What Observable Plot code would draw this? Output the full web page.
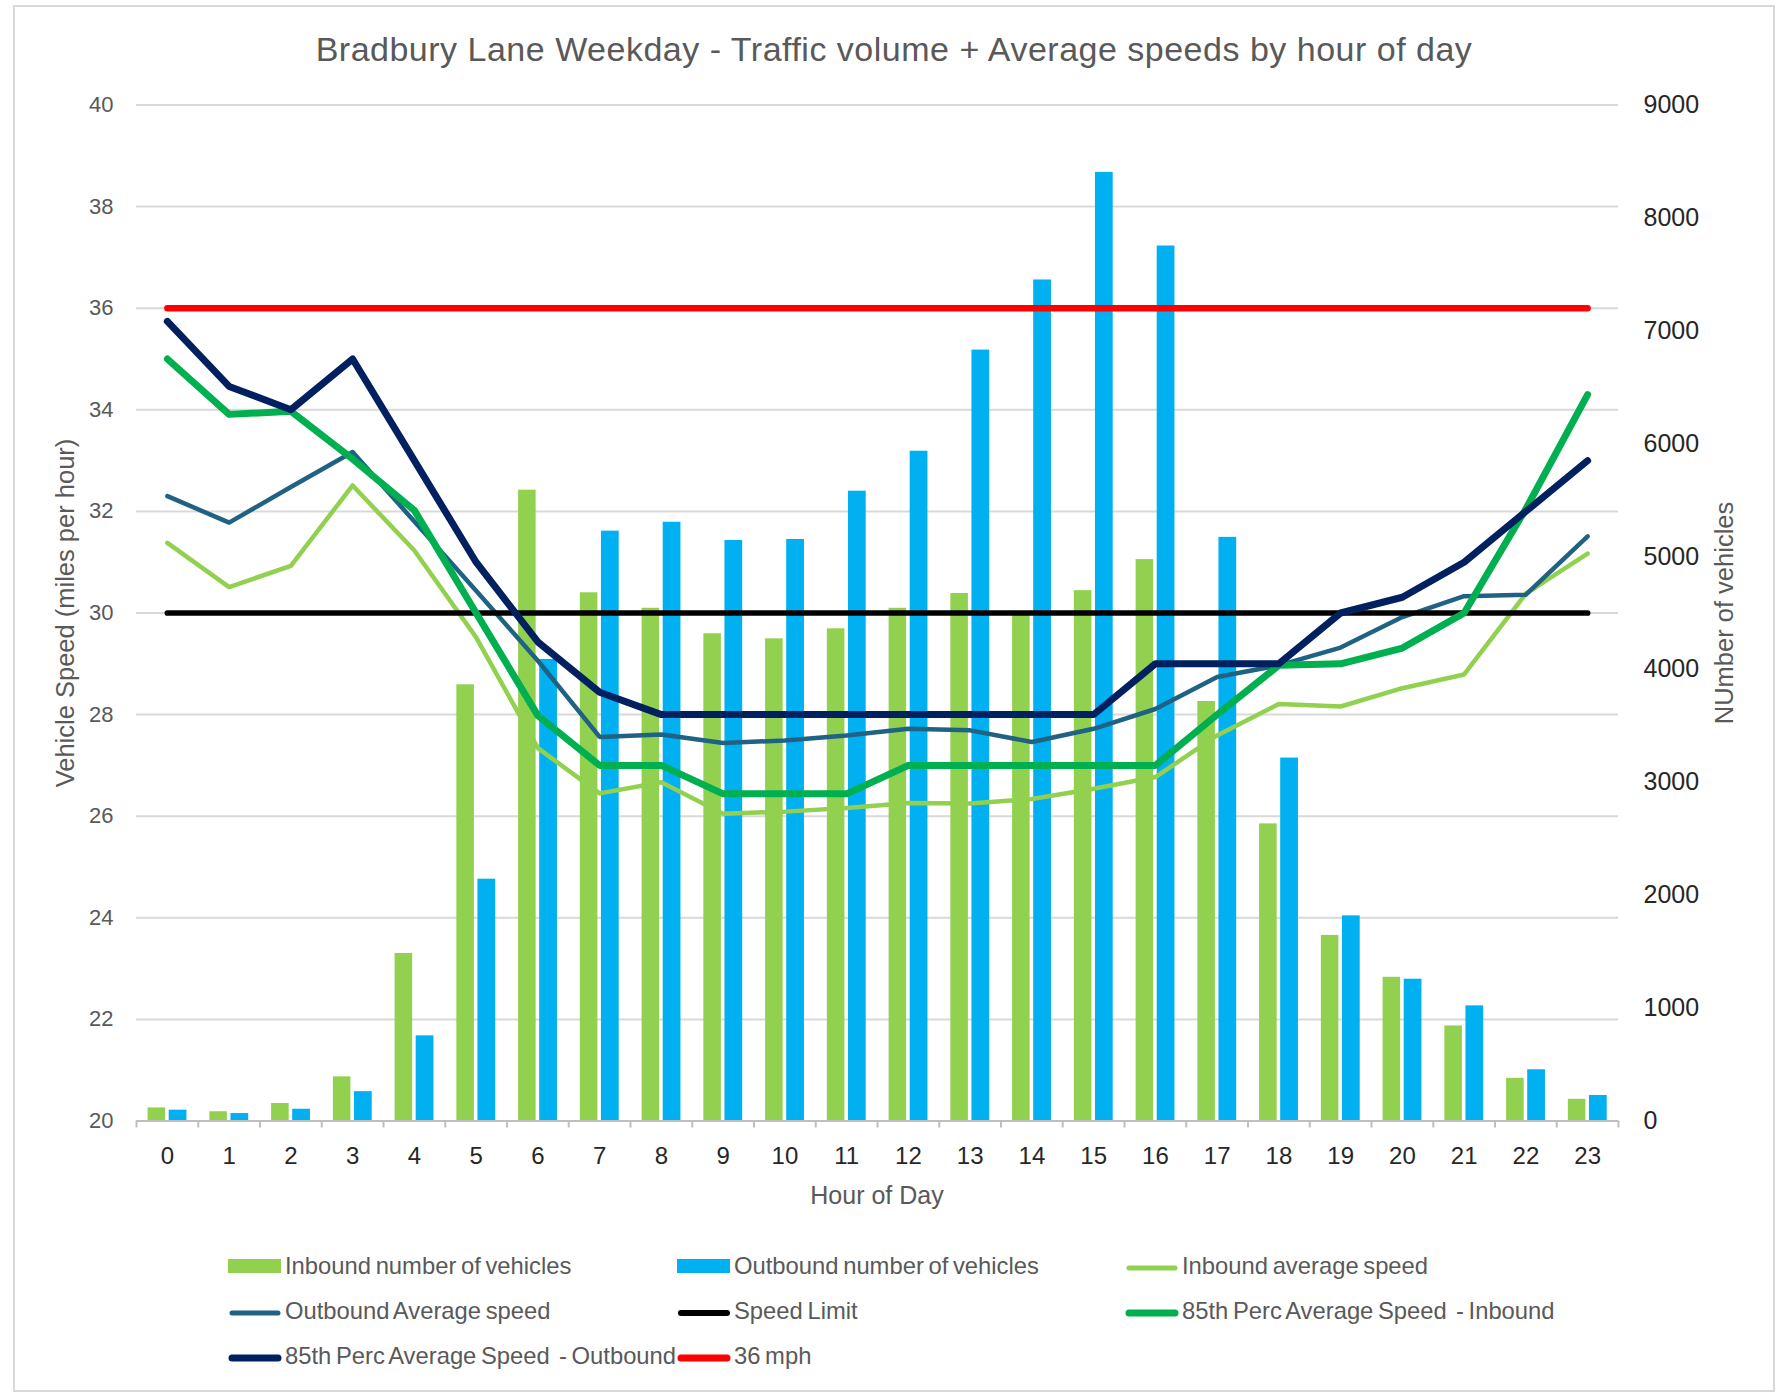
<!DOCTYPE html>
<html>
<head>
<meta charset="utf-8">
<script src="https://cdn.jsdelivr.net/npm/d3@7"></script>
<script src="https://cdn.jsdelivr.net/npm/@observablehq/plot@0.6"></script>
<style>
  body { margin: 0; background: #fff; font-family: "Liberation Sans", Arial, sans-serif; }
  #wrap { position: relative; width: 1780px; height: 1397px; overflow: hidden; background: #fff; }
  #frame { position: absolute; left: 13px; top: 5px; width: 1762px; height: 1387px; border: 2px solid #D9D9D9; box-sizing: border-box; }
  #title { position: absolute; left: 14px; width: 1760px; top: 30px; text-align: center; font-size: 34px; letter-spacing: 0.5px; line-height: 38px; color: #595959; white-space: nowrap; }
  #chart { position: absolute; left: 0; top: 0; }
  .axt { position: absolute; font-size: 25.5px; line-height: 28px; color: #595959; white-space: nowrap; transform: translate(-50%, -50%) rotate(-90deg); }
  #xt { position: absolute; font-size: 25px; line-height: 28px; color: #595959; white-space: nowrap; transform: translate(-50%, -50%); }
  .leg { position: absolute; font-size: 23.8px; word-spacing: -2px; line-height: 28px; color: #595959; white-space: pre; }
  .sw { position: absolute; }
</style>
</head>
<body>
<div id="wrap">
  <div id="frame"></div>
  <div id="title">Bradbury Lane Weekday - Traffic volume + Average speeds by hour of day</div>
  <div id="chart"></div>
  <div class="axt" style="left:65px; top:613px;">Vehicle Speed (miles per hour)</div>
  <div class="axt" style="left:1724px; top:613px;">NUmber of vehicles</div>
  <div id="xt" style="left:877px; top:1195px;">Hour of Day</div>
  <div id="legend"></div>
</div>
<script>
// ---- Data ----
const hours = [0, 1, 2, 3, 4, 5, 6, 7, 8, 9, 10, 11, 12, 13, 14, 15, 16, 17, 18, 19, 20, 21, 22, 23];

const inboundVehicles  = [116, 82, 155, 391, 1484, 3864, 5588, 4679, 4542, 4316, 4271, 4360, 4542, 4673, 4490, 4698, 4973, 3716, 2632, 1644, 1273, 842, 378, 192];
const outboundVehicles = [96, 66, 104, 260, 754, 2142, 4088, 5225, 5304, 5142, 5151, 5579, 5933, 6829, 7450, 8403, 7751, 5170, 3215, 1817, 1256, 1020, 454, 226];

const inboundAvgSpeed  = [31.38, 30.51, 30.93, 32.51, 31.23, 29.52, 27.34, 26.45, 26.67, 26.05, 26.09, 26.16, 26.26, 26.25, 26.34, 26.54, 26.77, 27.59, 28.21, 28.16, 28.52, 28.79, 30.38, 31.17];
const outboundAvgSpeed = [32.30, 31.78, 32.48, 33.17, 31.80, 30.44, 29.06, 27.56, 27.61, 27.44, 27.49, 27.59, 27.72, 27.69, 27.46, 27.72, 28.11, 28.74, 28.97, 29.32, 29.92, 30.33, 30.36, 31.51];
const speedLimit       = [30, 30, 30, 30, 30, 30, 30, 30, 30, 30, 30, 30, 30, 30, 30, 30, 30, 30, 30, 30, 30, 30, 30, 30];
const perc85Inbound    = [35.00, 33.91, 33.97, 33.03, 32.02, 30.00, 27.98, 27.00, 27.00, 26.44, 26.44, 26.44, 27.00, 27.00, 27.00, 27.00, 27.00, 28.00, 28.97, 29.00, 29.31, 30.00, 32.05, 34.30];
const perc85Outbound   = [35.74, 34.46, 34.00, 35.00, 33.00, 31.00, 29.43, 28.44, 28.00, 28.00, 28.00, 28.00, 28.00, 28.00, 28.00, 28.00, 29.00, 29.00, 29.00, 30.00, 30.31, 31.00, 32.00, 33.00];
const mph36            = [36, 36, 36, 36, 36, 36, 36, 36, 36, 36, 36, 36, 36, 36, 36, 36, 36, 36, 36, 36, 36, 36, 36, 36];

const speedTicks   = [20, 22, 24, 26, 28, 30, 32, 34, 36, 38, 40];
const vehicleTicks = [0, 1000, 2000, 3000, 4000, 5000, 6000, 7000, 8000, 9000];

const legendLabels = [
  "Inbound number of vehicles", "Outbound number of vehicles", "Inbound average speed",
  "Outbound Average speed", "Speed Limit", "85th Perc Average Speed  - Inbound",
  "85th Perc Average Speed  - Outbound", "36 mph"
];

// ---- Build table ----
const rows = hours.map((h, i) => ({
  hour: h,
  inbound: inboundVehicles[i],
  outbound: outboundVehicles[i],
  inAvg: inboundAvgSpeed[i],
  outAvg: outboundAvgSpeed[i],
  limit: speedLimit[i],
  p85in: perc85Inbound[i],
  p85out: perc85Outbound[i],
  red: mph36[i]
}));

// Vehicles (secondary axis 0..9000) mapped onto the speed axis (20..40)
const sMin = speedTicks[0], sMax = speedTicks[speedTicks.length - 1], vMax = vehicleTicks[vehicleTicks.length - 1];
const toSpeed = v => sMin + v * (sMax - sMin) / vMax;
const vehicleTickPos = vehicleTicks.map(toSpeed);
const boundaries = hours.map(h => h - 0.5).concat([hours[hours.length - 1] + 0.5]);

const series = [
  {key: "inAvg",  color: "#92D050", width: 4.5},
  {key: "outAvg", color: "#1F6283", width: 4.5},
  {key: "limit",  color: "#000000", width: 5.7},
  {key: "p85in",  color: "#00B050", width: 7},
  {key: "p85out", color: "#002060", width: 7},
  {key: "red",    color: "#FF0000", width: 6.5}
];

const chart = Plot.plot({
  width: 1780,
  height: 1240,
  marginTop: 104.5,
  marginBottom: 119.5,
  marginLeft: 136,
  marginRight: 162,
  x: {type: "linear", domain: [-0.5, 23.5]},
  y: {type: "linear", domain: [sMin, sMax]},
  style: {fontFamily: '"Liberation Sans", Arial, sans-serif', fontSize: "23px", background: "transparent", overflow: "visible"},
  marks: [
    Plot.ruleY(speedTicks.slice(1), {stroke: "#D9D9D9", strokeWidth: 2}),
    Plot.rect(rows, {x1: d => d.hour - 0.5, x2: d => d.hour + 0.5, y1: sMin, y2: d => toSpeed(d.inbound),
      fill: "#92D050", insetLeft: 11.6, insetRight: 32.6}),
    Plot.rect(rows, {x1: d => d.hour - 0.5, x2: d => d.hour + 0.5, y1: sMin, y2: d => toSpeed(d.outbound),
      fill: "#00B0F0", insetLeft: 32.7, insetRight: 11.3}),
    Plot.ruleY([sMin], {stroke: "#BFBFBF", strokeWidth: 2}),
    Plot.axisX(boundaries, {tickSize: 7, tickFormat: () => "", stroke: "#BFBFBF", strokeWidth: 2, label: null}),
    Plot.axisX(hours, {tickSize: 0, tickPadding: 26, label: null, fill: "#262626", fontSize: 24, tickFormat: d => String(d)}),
    Plot.axisY(speedTicks, {anchor: "left", tickSize: 0, tickPadding: 23, label: null, fill: "#595959", fontSize: 22,
      tickFormat: d => String(d)}),
    Plot.axisY(vehicleTickPos, {anchor: "right", tickSize: 0, tickPadding: 25, label: null,
      fill: "#262626", fontSize: 25, tickFormat: s => String(vehicleTicks[vehicleTickPos.indexOf(s)])}),
    ...series.map(s => Plot.line(rows, {x: "hour", y: s.key, stroke: s.color, strokeWidth: s.width,
      strokeLinejoin: "round", strokeLinecap: "round"}))
  ]
});
document.getElementById("chart").append(chart);

// ---- Legend (HTML) ----
const legendKinds  = ["bar", "bar", "line", "line", "line", "line", "line", "line"];
const legendColors = ["#92D050", "#00B0F0", "#92D050", "#1F6283", "#000000", "#00B050", "#002060", "#FF0000"];
const legendWidths = [0, 0, 5, 5, 6, 7, 7, 7];
const colX = [228, 677, 1125];
const rowY = [1266, 1311, 1356];
const leg = document.getElementById("legend");
legendLabels.forEach((label, i) => {
  const cx = colX[i % 3], cy = rowY[Math.floor(i / 3)];
  const sw = document.createElement("div");
  sw.className = "sw";
  if (legendKinds[i] === "bar") {
    sw.style.left = cx + "px"; sw.style.top = (cy - 7) + "px";
    sw.style.width = "53px"; sw.style.height = "14px"; sw.style.background = legendColors[i];
  } else {
    sw.style.left = cx + "px"; sw.style.top = (cy - 6) + "px";
    sw.style.width = "54px"; sw.style.height = "12px";
    sw.innerHTML = `<svg width="54" height="12"><line x1="4" y1="6" x2="50" y2="6" stroke="${legendColors[i]}" stroke-width="${legendWidths[i]}" stroke-linecap="round"/></svg>`;
  }
  leg.append(sw);
  const t = document.createElement("div");
  t.className = "leg";
  t.style.left = (cx + 57) + "px";
  t.style.top = (cy - 14) + "px";
  t.textContent = label;
  leg.append(t);
});
</script>
</body>
</html>
